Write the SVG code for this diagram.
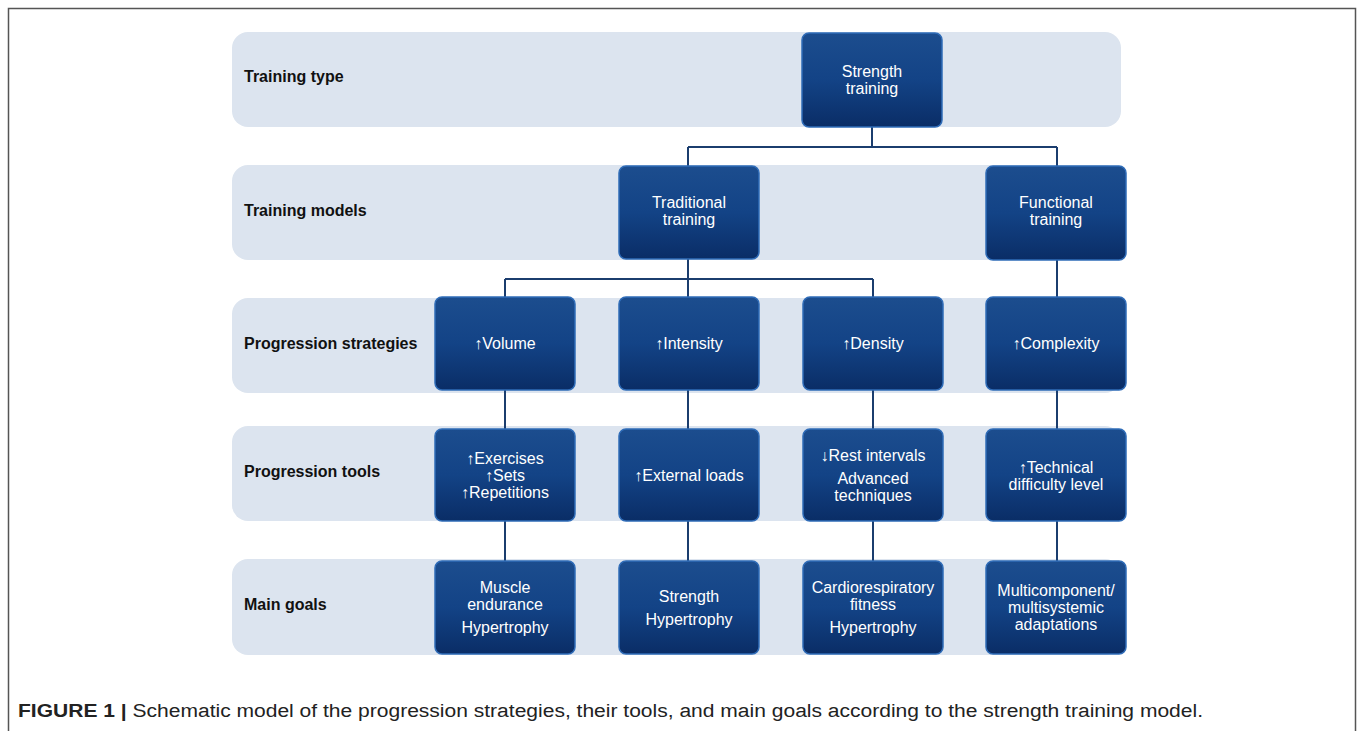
<svg xmlns="http://www.w3.org/2000/svg" width="1357" height="731" viewBox="0 0 1357 731">
<defs>
<linearGradient id="ng" x1="0" y1="0" x2="0" y2="1">
<stop offset="0" stop-color="#1c4d8e"/>
<stop offset="0.5" stop-color="#134386"/>
<stop offset="1" stop-color="#0a2d66"/>
</linearGradient>
<style>
.band{fill:#dce4ef}
.node{fill:url(#ng);stroke:#2f6cb8;stroke-width:1.5}
.lbl{font-family:"Liberation Sans",Arial,sans-serif;font-size:16px;font-weight:bold;fill:#111}
.nt{font-family:"Liberation Sans",Arial,sans-serif;font-size:16px;fill:#fff;text-anchor:middle}
.conn{fill:none;stroke:#1b3d6e;stroke-width:2}
.cap{font-family:"Liberation Sans",Arial,sans-serif;font-size:18px;fill:#222}
</style>
</defs>
<rect x="0" y="0" width="1357" height="731" fill="#fff"/>
<path d="M8.5 740 V8.5 H1355.5 V740" fill="none" stroke="#555" stroke-width="1.5"/>

<g id="bands">
<rect class="band" x="232" y="32" width="889" height="95" rx="16"/>
<rect class="band" x="232" y="165" width="889" height="95" rx="16"/>
<rect class="band" x="232" y="298" width="889" height="95" rx="16"/>
<rect class="band" x="232" y="426" width="889" height="95" rx="16"/>
<rect class="band" x="232" y="559" width="889" height="96" rx="16"/>
</g>

<g id="labels">
<text class="lbl" x="244" y="82">Training type</text>
<text class="lbl" x="244" y="216">Training models</text>
<text class="lbl" x="244" y="349">Progression strategies</text>
<text class="lbl" x="244" y="477">Progression tools</text>
<text class="lbl" x="244" y="610">Main goals</text>
</g>

<g id="connectors">
<path class="conn" d="M872 127 V147 M688 147 H1057 M688 147 V166 M1057 147 V166"/>
<path class="conn" d="M688 259 V279 M505 279 H873 M505 279 V297 M688 279 V297 M873 279 V297"/>
<path class="conn" d="M1057 260 V297"/>
<path class="conn" d="M505 390 V429 M688 390 V429 M873 390 V429 M1057 390 V429"/>
<path class="conn" d="M505 521 V561 M688 521 V561 M873 521 V561 M1057 521 V561"/>
</g>

<g id="n-strength">
<rect class="node" x="802" y="33" width="140" height="94" rx="7"/>
<text class="nt" x="872" y="77">Strength</text>
<text class="nt" x="872" y="94">training</text>
</g>
<g id="n-traditional">
<rect class="node" x="619" y="166" width="140" height="93" rx="7"/>
<text class="nt" x="689" y="208">Traditional</text>
<text class="nt" x="689" y="225">training</text>
</g>
<g id="n-functional">
<rect class="node" x="986" y="166" width="140" height="94" rx="7"/>
<text class="nt" x="1056" y="208">Functional</text>
<text class="nt" x="1056" y="225">training</text>
</g>

<g id="n-volume">
<rect class="node" x="435" y="297" width="140" height="93" rx="7"/>
<text class="nt" x="505" y="349">↑Volume</text>
</g>
<g id="n-intensity">
<rect class="node" x="619" y="297" width="140" height="93" rx="7"/>
<text class="nt" x="689" y="349">↑Intensity</text>
</g>
<g id="n-density">
<rect class="node" x="803" y="297" width="140" height="93" rx="7"/>
<text class="nt" x="873" y="349">↑Density</text>
</g>
<g id="n-complexity">
<rect class="node" x="986" y="297" width="140" height="93" rx="7"/>
<text class="nt" x="1056" y="349">↑Complexity</text>
</g>

<g id="n-exercises">
<rect class="node" x="435" y="429" width="140" height="92" rx="7"/>
<text class="nt" x="505" y="464">↑Exercises</text>
<text class="nt" x="505" y="481">↑Sets</text>
<text class="nt" x="505" y="498">↑Repetitions</text>
</g>
<g id="n-loads">
<rect class="node" x="619" y="429" width="140" height="92" rx="7"/>
<text class="nt" x="689" y="481">↑External loads</text>
</g>
<g id="n-rest">
<rect class="node" x="803" y="429" width="140" height="92" rx="7"/>
<text class="nt" x="873" y="461">↓Rest intervals</text>
<text class="nt" x="873" y="484">Advanced</text>
<text class="nt" x="873" y="501">techniques</text>
</g>
<g id="n-technical">
<rect class="node" x="986" y="429" width="140" height="92" rx="7"/>
<text class="nt" x="1056" y="473">↑Technical</text>
<text class="nt" x="1056" y="490">difficulty level</text>
</g>

<g id="n-muscle">
<rect class="node" x="435" y="561" width="140" height="93" rx="7"/>
<text class="nt" x="505" y="593">Muscle</text>
<text class="nt" x="505" y="610">endurance</text>
<text class="nt" x="505" y="633">Hypertrophy</text>
</g>
<g id="n-strength-goal">
<rect class="node" x="619" y="561" width="140" height="93" rx="7"/>
<text class="nt" x="689" y="602">Strength</text>
<text class="nt" x="689" y="625">Hypertrophy</text>
</g>
<g id="n-cardio">
<rect class="node" x="803" y="561" width="140" height="93" rx="7"/>
<text class="nt" x="873" y="593">Cardiorespiratory</text>
<text class="nt" x="873" y="610">fitness</text>
<text class="nt" x="873" y="633">Hypertrophy</text>
</g>
<g id="n-multi">
<rect class="node" x="986" y="561" width="140" height="93" rx="7"/>
<text class="nt" x="1056" y="596">Multicomponent/</text>
<text class="nt" x="1056" y="613">multisystemic</text>
<text class="nt" x="1056" y="630">adaptations</text>
</g>

<text class="cap" x="18" y="717" textLength="1185" lengthAdjust="spacingAndGlyphs"><tspan font-weight="bold">FIGURE 1 |</tspan> Schematic model of the progression strategies, their tools, and main goals according to the strength training model.</text>
</svg>
